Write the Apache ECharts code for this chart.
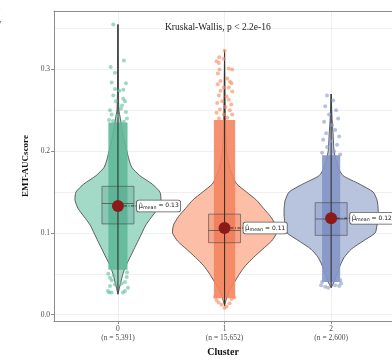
<!DOCTYPE html>
<html>
<head>
<meta charset="utf-8">
<script src="https://cdn.jsdelivr.net/npm/echarts@6/dist/echarts.min.js"></script>
<style>
  html, body { margin: 0; padding: 0; background: #fff; }
  #main { width: 392px; height: 362px; }
</style>
</head>
<body>
<div id="main"></div>
<script>
// clusters and group sizes
var clusters = ['0', '1', '2']
var counts = ['5,391', '15,652', '2,600']
var yTicks = [0, 0.1, 0.2, 0.3]

// violin outline: score levels and half width (in cluster units)
var violinLevels = [
  [0.025, 0.03, 0.04, 0.05, 0.06, 0.07, 0.08, 0.09, 0.10, 0.11, 0.12, 0.13, 0.14, 0.15, 0.16, 0.17, 0.18, 0.19, 0.20, 0.22, 0.24, 0.25, 0.27, 0.30, 0.355],
  [0.011, 0.02, 0.03, 0.04, 0.05, 0.06, 0.07, 0.08, 0.09, 0.10, 0.11, 0.12, 0.13, 0.14, 0.15, 0.16, 0.17, 0.18, 0.20, 0.23, 0.27, 0.323],
  [0.033, 0.04, 0.05, 0.06, 0.07, 0.08, 0.09, 0.10, 0.11, 0.12, 0.13, 0.14, 0.15, 0.16, 0.17, 0.18, 0.20, 0.22, 0.24, 0.27]
]
var violinWidth = [
  [0, 0.009, 0.028, 0.047, 0.075, 0.113, 0.15, 0.188, 0.225, 0.263, 0.319, 0.375, 0.403, 0.394, 0.319, 0.206, 0.131, 0.103, 0.084, 0.047, 0.023, 0.009, 0.005, 0.003, 0],
  [0, 0.019, 0.047, 0.094, 0.141, 0.197, 0.272, 0.356, 0.441, 0.488, 0.478, 0.432, 0.366, 0.3, 0.206, 0.113, 0.075, 0.047, 0.019, 0.009, 0.005, 0],
  [0, 0.028, 0.056, 0.084, 0.122, 0.188, 0.3, 0.413, 0.431, 0.441, 0.441, 0.431, 0.394, 0.263, 0.113, 0.066, 0.028, 0.019, 0.009, 0]
]

// boxplot stats
var q1 = [0.111, 0.088, 0.097]
var medians = [0.136, 0.103, 0.117]
var q3 = [0.157, 0.123, 0.137]
var means = [0.133, 0.106, 0.118]
var mins = [0.025, 0.011, 0.033]
var maxs = [0.355, 0.323, 0.27]
var meanLabels = ['0.13', '0.11', '0.12']

// dense jitter band (score range) and the scattered points in the tails: [offset, score]
var bandRange = [[0.055, 0.235], [0.02, 0.238], [0.04, 0.195]]
var tail0 = [[-0.044, 0.355], [-0.068, 0.303], [0.056, 0.311], [-0.028, 0.296], [-0.059, 0.284], [0.075, 0.283], [-0.028, 0.276], [0.012, 0.274], [0.05, 0.275], [-0.044, 0.268], [0.05, 0.264], [-0.019, 0.261], [0.066, 0.261], [-0.059, 0.245], [0.075, 0.248], [-0.075, 0.25], [0.028, 0.252], [-0.009, 0.243], [0.084, 0.24], [-0.084, 0.238], [0.038, 0.256], [-0.047, 0.237], [0.056, 0.236],
  [-0.091, 0.05], [-0.059, 0.042], [0.082, 0.046], [-0.075, 0.035], [0.094, 0.033], [-0.082, 0.027], [0.066, 0.029], [-0.028, 0.037], [0.035, 0.038], [-0.094, 0.029], [-0.06, 0.027], [0.047, 0.027], [-0.075, 0.045], [0.066, 0.04], [0.085, 0.052], [-0.04, 0.048]]
var tail1 = [[0, 0.323], [-0.075, 0.31], [-0.053, 0.308], [-0.007, 0.313], [-0.05, 0.315], [0.072, 0.3], [0.04, 0.301], [-0.047, 0.3], [-0.063, 0.295], [0.025, 0.289], [-0.038, 0.286], [0.05, 0.285], [0.066, 0.283], [-0.063, 0.282], [-0.007, 0.278], [0.04, 0.278], [-0.038, 0.274], [0.072, 0.273], [-0.053, 0.268], [0.019, 0.267], [0.04, 0.263], [-0.022, 0.261], [-0.069, 0.259], [0.063, 0.257], [0.009, 0.254], [-0.044, 0.251], [0.05, 0.25], [-0.075, 0.247], [-0.007, 0.245], [0.072, 0.245], [0.025, 0.241], [-0.053, 0.24],
  [-0.056, 0.015], [-0.028, 0.012], [0.019, 0.01], [0.047, 0.014], [-0.075, 0.018], [0.066, 0.019], [0, 0.008], [-0.09, 0.022], [0.09, 0.021]]
var tail2 = [[-0.038, 0.268], [0.019, 0.262], [-0.056, 0.255], [0.047, 0.25], [-0.019, 0.245], [0.066, 0.24], [-0.066, 0.236], [0.009, 0.232], [0.038, 0.226], [-0.047, 0.222], [0.075, 0.218], [-0.075, 0.214], [-0.009, 0.212], [0.056, 0.208], [-0.038, 0.205], [0.028, 0.2], [-0.085, 0.198], [0.085, 0.196],
  [-0.094, 0.036], [-0.056, 0.034], [0.075, 0.035], [0.094, 0.038], [-0.028, 0.033], [0.038, 0.036], [-0.085, 0.04], [0.085, 0.042]]

var gridY = [0, 0.05, 0.1, 0.15, 0.2, 0.25, 0.3, 0.35]

// colours (Set2)
var pointColor = ['rgba(102,194,165,0.8)', 'rgba(252,141,98,0.8)', 'rgba(141,160,203,0.8)']
var violinFill = ['rgb(163,217,199)', 'rgb(252,190,166)', 'rgb(184,195,222)']
var bandColor = ['rgba(95,185,153,0.9)', 'rgba(244,132,96,0.9)', 'rgba(132,150,198,0.9)']
var boxFill = ['rgba(80,160,135,0.3)', 'rgba(230,110,75,0.3)', 'rgba(110,130,185,0.3)']
var bandHalf = [0.09, 0.1, 0.085]
var boxHalf = 0.15
var serif = 'Liberation Serif'

var myChart = echarts.init(document.getElementById('main'))

function renderViolin(params, api) {
  var i = params.dataIndex
  var lv = violinLevels[i], hw = violinWidth[i]
  var pts = []
  for (var k = 0; k < lv.length; k++) pts.push(api.coord([i + hw[k], lv[k]]))
  for (var k = lv.length - 1; k >= 0; k--) pts.push(api.coord([i - hw[k], lv[k]]))
  var b0 = api.coord([i - bandHalf[i], bandRange[i][1]])
  var b1 = api.coord([i + bandHalf[i], bandRange[i][0]])
  return {
    type: 'group',
    children: [
      { type: 'polygon', shape: { points: pts, smooth: 0.2 },
        style: { fill: violinFill[i], stroke: '#3d3d3d', lineWidth: 0.8 } },
      { type: 'rect', shape: { x: b0[0], y: b0[1], width: b1[0] - b0[0], height: b1[1] - b0[1] },
        style: { fill: bandColor[i] } }
    ]
  }
}

function renderBox(params, api) {
  var i = params.dataIndex
  var tl = api.coord([i - boxHalf, q3[i]])
  var br = api.coord([i + boxHalf, q1[i]])
  var md = api.coord([i, medians[i]])
  var top = api.coord([i, maxs[i]])
  var bot = api.coord([i, mins[i]])
  var mp = api.coord([i, means[i]])
  return {
    type: 'group',
    children: [
      { type: 'rect', shape: { x: tl[0], y: tl[1], width: br[0] - tl[0], height: br[1] - tl[1] },
        style: { fill: boxFill[i], stroke: 'rgba(70,70,70,0.65)', lineWidth: 0.9 } },
      { type: 'line', shape: { x1: tl[0], y1: md[1], x2: br[0], y2: md[1] },
        style: { stroke: 'rgba(70,70,70,0.7)', lineWidth: 1 } },
      { type: 'line', shape: { x1: top[0], y1: top[1], x2: bot[0], y2: bot[1] },
        style: { stroke: '#333', lineWidth: 1.1 } },
      { type: 'line', shape: { x1: mp[0] + 6, y1: mp[1], x2: mp[0] + 19, y2: mp[1] },
        style: { stroke: '#222', lineWidth: 0.9, lineDash: [3, 1.5, 1, 1.5] } },
      { type: 'circle', shape: { cx: mp[0], cy: mp[1], r: 6 },
        style: { fill: '#8b1a1a' } },
      { type: 'text', x: mp[0] + 19, y: mp[1],
        style: {
          text: '{m|μ̂}{s|mean}{t| = ' + meanLabels[i] + '}',
          align: 'left', verticalAlign: 'middle',
          backgroundColor: '#fff', borderColor: '#555', borderWidth: 0.8, borderRadius: 2,
          padding: [0.5, 1.5, 0.5, 1.5],
          rich: {
            m: { fontFamily: 'DejaVu Sans', fontSize: 7, fill: '#222', lineHeight: 10 },
            s: { fontFamily: 'DejaVu Sans', fontSize: 4.8, fill: '#222', lineHeight: 10, padding: [3, 0, 0, 0] },
            t: { fontFamily: 'DejaVu Sans', fontSize: 6, fill: '#222', lineHeight: 10 }
          }
        } }
    ]
  }
}

var tails = [tail0, tail1, tail2]

myChart.setOption({
  animation: false,
  title: {
    text: 'Kruskal-Wallis, p < 2.2e-16',
    left: 160, top: 17,
    textStyle: { fontFamily: serif, fontSize: 9.5, fontWeight: 'normal', color: '#222' }
  },
  graphic: [
    { type: 'text', left: -4, top: 3, style: { text: 'n', font: '9px ' + serif, fill: '#777' } },
    { type: 'text', left: -3, top: 18, style: { text: 'y', font: '9px ' + serif, fill: '#333' } }
  ],
  grid: { left: 54, right: 0, top: 11, bottom: 29.3 },
  xAxis: [{
    type: 'value', min: -0.6, max: 2.571,
    name: 'Cluster', nameLocation: 'middle', nameGap: 23,
    nameTextStyle: { fontFamily: serif, fontSize: 10, fontWeight: 'bold', color: '#111' },
    axisLine: { show: true, onZero: false, lineStyle: { color: '#8c8c8c', width: 1 } },
    axisTick: { show: true, customValues: [0, 1, 2], length: 3, lineStyle: { color: '#8c8c8c' } },
    axisLabel: {
      customValues: [0, 1, 2], margin: 3,
      fontFamily: serif, fontSize: 7.5, color: '#4d4d4d', lineHeight: 9,
      formatter: function (v) { var i = Math.round(v); return clusters[i] + '\n(n = ' + counts[i] + ')' }
    },
    splitLine: { show: false }
  }, {
    type: 'value', min: -0.6, max: 2.571, position: 'top',
    axisLine: { show: true, onZero: false, lineStyle: { color: '#8c8c8c', width: 1 } },
    axisTick: { show: false }, axisLabel: { show: false }, splitLine: { show: false }
  }],
  yAxis: {
    type: 'value', min: -0.0079, max: 0.3715,
    name: 'EMT-AUCscore', nameLocation: 'middle', nameGap: 21,
    nameTextStyle: { fontFamily: serif, fontSize: 9, fontWeight: 'bold', color: '#111' },
    axisLine: { show: true, onZero: false, lineStyle: { color: '#8c8c8c', width: 1 } },
    axisTick: { show: true, customValues: yTicks, length: 3, lineStyle: { color: '#8c8c8c' } },
    axisLabel: {
      customValues: yTicks, margin: 4,
      fontFamily: serif, fontSize: 7.5, color: '#4d4d4d',
      formatter: function (v) { return v.toFixed(1) }
    },
    splitLine: { show: false }
  },
  series: [{
    type: 'line', data: [], silent: true, z: 0,
    markLine: {
      z: 0, silent: true, symbol: 'none', label: { show: false },
      lineStyle: { color: '#ebebeb', type: 'solid', width: 0.8 },
      data: gridY.map(function (v) { return { yAxis: v } })
        .concat([0, 1, 2].map(function (v) { return { xAxis: v } }))
    }
  }, {
    type: 'custom', renderItem: renderViolin, silent: true,
    data: clusters.map(function (c, i) { return [i] })
  }].concat(tails.map(function (t, i) {
    return {
      type: 'scatter', symbolSize: 4, silent: true,
      itemStyle: { color: pointColor[i] },
      data: t.map(function (p) { return [i + p[0], p[1]] })
    }
  })).concat([{
    type: 'custom', renderItem: renderBox, silent: true,
    data: clusters.map(function (c, i) { return [i] })
  }])
})
</script>
</body>
</html>
